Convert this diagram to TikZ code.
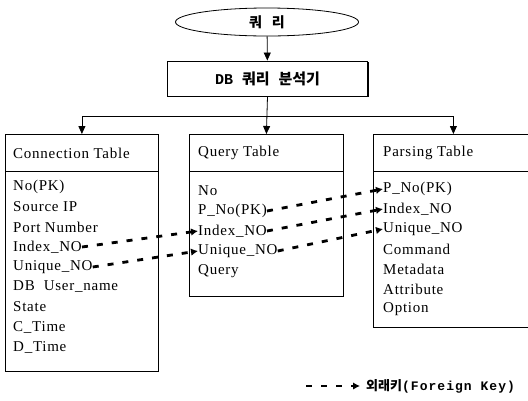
\documentclass[tikz,border=0pt]{standalone}
\usepackage{fontspec}
\setmainfont{Liberation Serif}[LetterSpace=5]
\setmonofont{Liberation Mono}
\newfontfamily\kr{Noto Sans CJK KR}
\usetikzlibrary{shapes.geometric,arrows.meta,shadows}
\begin{document}
\begin{tikzpicture}[x=1pt,y=-1pt,
  every node/.style={inner sep=0pt},
  tbl/.style={draw,line width=0.8pt,anchor=north west},
  row/.style={anchor=west,font=\fontsize{15}{15}\selectfont},
  hline/.style={line width=0.8pt},
  fk/.style={line width=2.8pt,dash pattern=on 6pt off 9pt,-{Latex[length=7pt,width=7.5pt]}},
  arr/.style={line width=0.8pt,-{Triangle[length=8pt,width=7pt]}}]
\useasboundingbox (0,0) rectangle (528,400);
% top
\node[draw,ellipse,line width=0.8pt,minimum width=183pt,minimum height=28pt] (q) at (267,22)
  {\kr\bfseries\fontsize{14}{14}\selectfont 쿼\hspace{0.7em}리};
\node[draw,fill=white,line width=0.9pt,minimum width=200pt,minimum height=35pt,
  drop shadow={shadow xshift=1.2pt,shadow yshift=-1.2pt,opacity=1,fill=black}] (db) at (267.5,78.5)
  {\fontsize{15}{15}\selectfont\ttfamily\bfseries DB\hspace{0.6em}\kr\bfseries 쿼리\hspace{0.6em}분석기};
\draw[arr] (q) -- (db);
% tables
\node[tbl,minimum width=153pt,minimum height=237pt] (ct) at (5,134) {};
\node[tbl,minimum width=154pt,minimum height=162pt] (qt) at (189,134) {};
\node[tbl,minimum width=160pt,minimum height=193pt] (pt) at (373,134) {};
\draw[hline] ([yshift=-37pt]ct.north west) -- ([yshift=-37pt]ct.north east);
\draw[hline] ([yshift=-37pt]qt.north west) -- ([yshift=-37pt]qt.north east);
\draw[hline] ([yshift=-37pt]pt.north west) -- ([yshift=-37pt]pt.north east);
% branch
\coordinate (bus) at (267,116);
\draw[arr] (db.south) -- (qt.north);
\draw[arr] (bus) -| (ct.north);
\draw[arr] (bus) -| (pt.north);
% titles
\node[row] (ctt) at (13,153) {Connection Table};
\node[row] (qtt) at (198,153) {Query Table};
\node[row] (ptt) at (383,153) {Parsing Table};
% connection rows
\node[row] (cNo)  at (13,187) {No(PK)};
\node[row] (cSrc) at (13,207) {Source IP};
\node[row] (cPort) at (13,227) {Port Number};
\node[row] (cIdx) at (13,247) {Index\_NO};
\node[row] (cUni) at (13,267) {Unique\_NO};
\node[row] (cDB)  at (13,287) {DB\ \ User\_name};
\node[row] (cSt)  at (13,307) {State};
\node[row] (cC)   at (13,327) {C\_Time};
\node[row] (cD)   at (13,347) {D\_Time};
% query rows
\node[row] (qNo)  at (198,191) {No};
\node[row] (qPk)  at (198,211) {P\_No(PK)};
\node[row] (qIdx) at (198,231) {Index\_NO};
\node[row] (qUni) at (198,251) {Unique\_NO};
\node[row] (qQ)   at (198,271) {Query};
% parsing rows
\node[row] (pPk)  at (383,189) {P\_No(PK)};
\node[row] (pIdx) at (383,209) {Index\_NO};
\node[row] (pUni) at (383,229) {Unique\_NO};
\node[row] (pCmd) at (383,249) {Command};
\node[row] (pMeta) at (383,269) {Metadata};
\node[row] (pAttr) at (383,289) {Attribute};
\node[row] (pOpt) at (383,309) {Option};
% foreign keys
\draw[fk] (cIdx.east) -- (qIdx.west);
\draw[fk] (cUni.east) -- (qUni.west);
\draw[fk] (qPk.east) -- (pPk.west);
\draw[fk] (qIdx.east) -- (pIdx.west);
\draw[fk] (qUni.east) -- (pUni.west);
% legend
\coordinate (la) at (306,386);
\coordinate (lb) at (360,386);
\draw[fk] (la) -- (lb);
\node[anchor=west] (leg) at (366,386)
  {\kr\bfseries\fontsize{13}{13}\selectfont 외래키\ttfamily\bfseries\addfontfeature{LetterSpace=8}(Foreign Key)};
\end{tikzpicture}
\end{document}
